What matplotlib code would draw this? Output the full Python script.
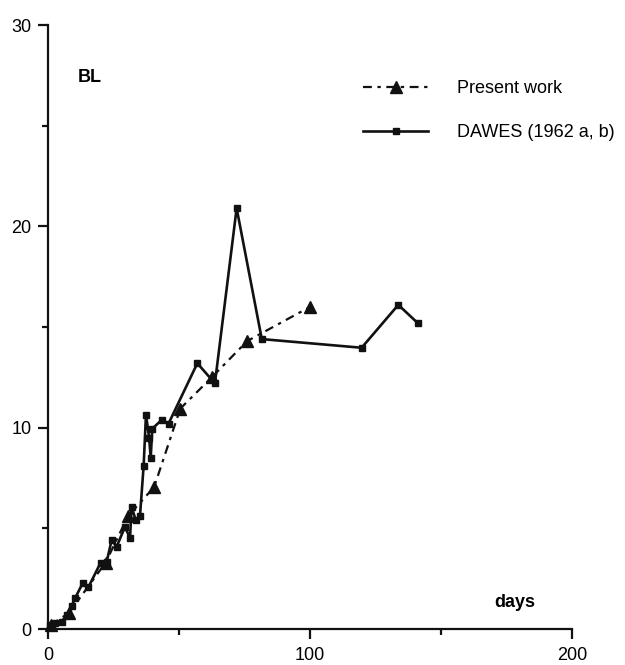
import numpy as np
import matplotlib
matplotlib.use('Agg')
import matplotlib.pyplot as plt

plt.rcParams['font.family'] = ['Liberation Sans', 'DejaVu Sans']

# Present work (days, body length)
present_days = [1, 8, 22, 30.5, 40.5, 50.5, 62.5, 76, 100]
present_bl = [0.2, 0.8, 3.3, 5.6, 7.05, 10.95, 12.5, 14.3, 16.0]

# DAWES (1962 a, b)
dawes_days = [0.8, 2.7, 5.2, 7.1, 9.0, 10.3, 13.2, 15.4, 20.1, 22.4, 24.3, 26.2,
              29.4, 31.3, 31.9, 33.5, 35.1, 36.5, 37.4, 38.6, 39.2, 39.8, 43.5,
              46, 57, 63.7, 72, 81.6, 119.7, 133.7, 141.1]
dawes_bl = [0.2, 0.31, 0.36, 0.7, 1.14, 1.52, 2.27, 2.07, 3.3, 3.34, 4.42, 4.09,
            5.08, 4.5, 6.08, 5.4, 5.6, 8.1, 10.65, 9.5, 8.5, 9.95, 10.4,
            10.2, 13.2, 12.2, 20.9, 14.4, 13.97, 16.1, 15.2]

x_ticks = [0, 100, 200]
y_ticks = [0, 10, 20, 30]

fig = plt.figure(figsize=(6.25, 6.65), dpi=100)
ax = fig.add_axes([0.0768, 0.0541, 0.8384, 0.9083])

ax.plot(present_days, present_bl, color='#111111', linestyle=(0, (4, 2.5, 1.5, 2.5)),
        linewidth=1.6, marker='^', markersize=8.5, label='Present work', clip_on=False)
ax.plot(dawes_days, dawes_bl, color='#111111', linestyle='-', linewidth=1.9,
        marker='s', markersize=4.5, label='DAWES (1962 a, b)', clip_on=False)

ax.set_xlim(0, 200)
ax.set_ylim(0, 30)
ax.set_xticks(x_ticks)
ax.set_yticks(y_ticks)
ax.set_xticks([50, 150], minor=True)
ax.set_yticks([5, 15, 25], minor=True)
ax.tick_params(axis='both', which='major', length=7, width=1.6, labelsize=13, color='#111111')
ax.tick_params(axis='both', which='minor', length=4, width=1.6, color='#111111')
ax.tick_params(axis='x', which='major', pad=6)
ax.tick_params(axis='y', which='major', pad=5)

for side in ['top', 'right']:
    ax.spines[side].set_visible(False)
for side in ['left', 'bottom']:
    ax.spines[side].set_linewidth(1.6)
    ax.spines[side].set_color('#111111')

ax.text(11.5, 27.4, 'BL', fontsize=13, fontweight='bold', va='center', ha='left')
ax.text(185.9, 1.34, 'days', fontsize=13, fontweight='bold', va='center', ha='right')

ax.legend(loc='upper left', bbox_to_anchor=(363 / 625, 1 - 80 / 665),
          bbox_transform=fig.transFigure, frameon=False, fontsize=13,
          handlelength=3.6, handletextpad=1.6, labelspacing=1.5,
          borderpad=0, borderaxespad=0)

plt.savefig('out.png', dpi=100)
